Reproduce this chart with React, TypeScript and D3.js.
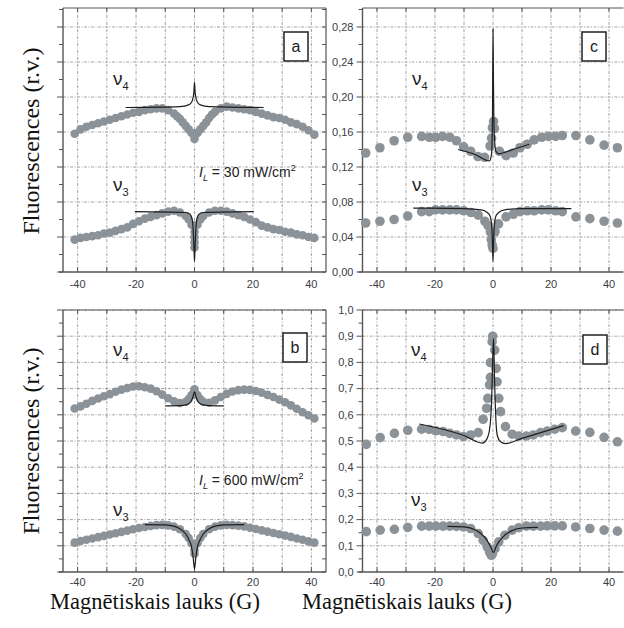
import React from 'react';
import * as d3 from 'd3';

type Pt = [number, number];

// ---- panel a : I_L = 30 mW/cm2, upper left ----
const aNu4: Pt[] = [
  [-41, 0.158], [-39, 0.163], [-37, 0.166], [-35, 0.168], [-33, 0.170], [-31, 0.172], [-29, 0.174],
  [-27, 0.176], [-25, 0.178], [-23, 0.180], [-21, 0.182], [-19, 0.183], [-17, 0.185], [-15, 0.186],
  [-13, 0.187], [-11, 0.187], [-9, 0.185], [-7, 0.181], [-6, 0.178], [-5, 0.175], [-4, 0.171],
  [-3, 0.167], [-2, 0.163], [-1, 0.159], [0, 0.156], [0, 0.152], [1, 0.159], [2, 0.163], [3, 0.167],
  [4, 0.171], [5, 0.176], [6, 0.180], [7, 0.183], [9, 0.187], [11, 0.189],
  [13, 0.188], [15, 0.187], [17, 0.186], [19, 0.185], [21, 0.183], [23, 0.181], [25, 0.179],
  [27, 0.177], [29, 0.176], [31, 0.174], [33, 0.171], [35, 0.169], [37, 0.166], [39, 0.162], [41, 0.157],
];
const aNu4Fit: Pt[] = [
  [-23.6, 0.188], [-5, 0.189], [-2, 0.191], [-1, 0.194], [-0.5, 0.199], [-0.2, 0.206], [0, 0.217],
  [0.2, 0.206], [0.5, 0.199], [1, 0.194], [2, 0.191], [5, 0.189], [23.7, 0.188],
];
const aNu3: Pt[] = [
  [-41, 0.037], [-39, 0.039], [-37, 0.040], [-35, 0.041], [-33, 0.042], [-31, 0.044], [-29, 0.045],
  [-27, 0.047], [-25, 0.049], [-23, 0.051], [-21, 0.055], [-19, 0.058], [-17, 0.061], [-15, 0.063],
  [-13, 0.065], [-11, 0.067], [-9, 0.069], [-7, 0.070], [-5, 0.068], [-3, 0.064], [-2, 0.060],
  [-1, 0.054], [0, 0.046], [0, 0.040], [0, 0.034], [0, 0.028], [1, 0.054], [2, 0.060], [3, 0.064],
  [5, 0.068], [7, 0.070], [9, 0.070], [11, 0.069], [13, 0.067], [15, 0.065], [17, 0.063], [19, 0.060],
  [21, 0.057], [23, 0.053], [25, 0.051], [27, 0.049], [29, 0.048], [31, 0.046], [33, 0.045],
  [35, 0.043], [37, 0.042], [39, 0.040], [41, 0.039],
];
const aNu3Fit: Pt[] = [
  [-20.4, 0.069], [-3, 0.068], [-1.5, 0.066], [-0.8, 0.060], [-0.4, 0.045], [-0.15, 0.025], [0, 0.012],
  [0.15, 0.025], [0.4, 0.045], [0.8, 0.060], [1.5, 0.066], [3, 0.068], [20.3, 0.069],
];

// ---- panel b : I_L = 600 mW/cm2, lower left ----
const bNu4: Pt[] = [
  [-41, 0.624], [-39, 0.632], [-37, 0.642], [-35, 0.653], [-33, 0.662], [-31, 0.671], [-29, 0.679],
  [-27, 0.688], [-25, 0.696], [-23, 0.702], [-21, 0.708], [-19, 0.709], [-17, 0.705], [-15, 0.700],
  [-13, 0.690], [-11, 0.677], [-9, 0.663], [-7, 0.652], [-5, 0.645], [-3, 0.650], [-2, 0.660],
  [-1, 0.675], [0, 0.697], [1, 0.675], [2, 0.660], [3, 0.650], [5, 0.646], [7, 0.655], [9, 0.668],
  [11, 0.680], [13, 0.689], [15, 0.694], [17, 0.696], [19, 0.695], [21, 0.691], [23, 0.684],
  [25, 0.676], [27, 0.668], [29, 0.658], [31, 0.648], [33, 0.636], [35, 0.623], [37, 0.610],
  [39, 0.598], [41, 0.586],
];
const bNu4Fit: Pt[] = [
  [-10, 0.634], [-4, 0.636], [-2, 0.642], [-1, 0.655], [-0.5, 0.670], [0, 0.688],
  [0.5, 0.670], [1, 0.655], [2, 0.642], [4, 0.636], [10, 0.634],
];
const bNu3: Pt[] = [
  [-41, 0.112], [-39, 0.118], [-37, 0.123], [-35, 0.128], [-33, 0.133], [-31, 0.138], [-29, 0.143],
  [-27, 0.148], [-25, 0.153], [-23, 0.158], [-21, 0.163], [-19, 0.168], [-17, 0.172], [-15, 0.176],
  [-13, 0.179], [-11, 0.180], [-9, 0.178], [-7, 0.173], [-5, 0.163], [-3, 0.145], [-2, 0.130],
  [-1, 0.110], [0, 0.085], [0, 0.070], [1, 0.110], [2, 0.130], [3, 0.145], [5, 0.163], [7, 0.173],
  [9, 0.178], [11, 0.180], [13, 0.179], [15, 0.177], [17, 0.174], [19, 0.169], [21, 0.164],
  [23, 0.159], [25, 0.154], [27, 0.149], [29, 0.144], [31, 0.139], [33, 0.134], [35, 0.128],
  [37, 0.123], [39, 0.117], [41, 0.112],
];
const bNu3Fit: Pt[] = [
  [-17, 0.181], [-10, 0.180], [-7, 0.175], [-5, 0.165], [-3, 0.145], [-2, 0.125], [-1, 0.095],
  [-0.5, 0.060], [0, 0.011], [0.5, 0.060], [1, 0.095], [2, 0.125], [3, 0.145], [5, 0.165],
  [7, 0.175], [10, 0.180], [17, 0.181],
];

// ---- panel c : upper right ----
const cNu4: Pt[] = [
  [-43.9, 0.136], [-39, 0.142], [-34.1, 0.150], [-29.4, 0.154], [-24.6, 0.155], [-22, 0.154],
  [-19.8, 0.154], [-17.4, 0.155], [-14.9, 0.154], [-12.6, 0.150], [-10.1, 0.143], [-7.7, 0.138],
  [-5.2, 0.132], [-2.9, 0.131], [-1, 0.144], [-0.5, 0.153], [-0.2, 0.165], [0.2, 0.172],
  [0.5, 0.164], [2.2, 0.138], [4.5, 0.133], [7, 0.136], [9.3, 0.142], [11.8, 0.146], [14.2, 0.151],
  [16.8, 0.154], [19.1, 0.155], [21.6, 0.155], [23.9, 0.156], [28.6, 0.156], [33.4, 0.151],
  [38.3, 0.145], [42.9, 0.142],
];
const cNu4Fit: Pt[] = [
  [-12, 0.140], [-6, 0.134], [-1.2, 0.127], [-0.5, 0.135], [-0.2, 0.170], [0, 0.278], [0.15, 0.220],
  [0.4, 0.160], [1, 0.138], [2, 0.135], [6, 0.139], [12.5, 0.146],
];
const cNu3: Pt[] = [
  [-43.9, 0.056], [-39, 0.058], [-34.1, 0.060], [-29.4, 0.064], [-24.6, 0.069], [-22, 0.069],
  [-19.8, 0.071], [-17.4, 0.071], [-14.9, 0.071], [-12.6, 0.071], [-10.1, 0.070], [-7.6, 0.068],
  [-5.1, 0.065], [-2.8, 0.058], [-1.7, 0.053], [-0.9, 0.046], [-0.6, 0.037], [-0.3, 0.031],
  [0, 0.027], [0.7, 0.046], [1.9, 0.055], [4.5, 0.063], [7, 0.066], [9.3, 0.069], [11.8, 0.070],
  [14.2, 0.070], [16.8, 0.071], [19.1, 0.071], [21.6, 0.070], [23.9, 0.069], [28.6, 0.063],
  [33.4, 0.061], [38.3, 0.058], [42.9, 0.056],
];
const cNu3Fit: Pt[] = [
  [-27.5, 0.073], [-10, 0.0725], [-4, 0.071], [-2, 0.068], [-1, 0.064], [-0.5, 0.055], [-0.2, 0.035],
  [0, 0.012], [0.2, 0.035], [0.5, 0.055], [1, 0.064], [2, 0.068], [4, 0.071], [10, 0.0725], [27, 0.0725],
];

// ---- panel d : lower right ----
const dNu4: Pt[] = [
  [-43.7, 0.487], [-38.9, 0.513], [-34, 0.529], [-29.4, 0.541], [-24.6, 0.545], [-22, 0.544],
  [-19.7, 0.539], [-17.2, 0.536], [-14.9, 0.529], [-12.6, 0.523], [-10.2, 0.517], [-7.7, 0.523],
  [-5.1, 0.532], [-3.4, 0.583], [-2.2, 0.625], [-1.8, 0.663], [-1.2, 0.714], [-0.9, 0.743],
  [-0.9, 0.799], [-0.3, 0.879], [-0.1, 0.900], [0.6, 0.847], [1.1, 0.777], [1.4, 0.726], [2, 0.663],
  [2.6, 0.612], [4.3, 0.555], [6.6, 0.526], [8.9, 0.519], [11.5, 0.519], [13.9, 0.523], [16.4, 0.532],
  [18.7, 0.538], [21.3, 0.545], [23.9, 0.551], [28.5, 0.538], [33.4, 0.533], [38.3, 0.514], [42.9, 0.497],
];
const dNu4Fit: Pt[] = [
  [-25.4, 0.565], [-10, 0.521], [-3.7, 0.492], [-2, 0.510], [-1, 0.560], [-0.5, 0.650], [0, 0.850],
  [0.2, 0.890], [0.5, 0.750], [1, 0.580], [1.5, 0.520], [2.5, 0.498], [4.3, 0.490], [10, 0.510], [24.4, 0.559],
];
const dNu3: Pt[] = [
  [-43.7, 0.154], [-38.9, 0.160], [-34, 0.163], [-29.4, 0.170], [-24.6, 0.175], [-22, 0.175],
  [-19.7, 0.175], [-17.2, 0.175], [-14.9, 0.175], [-12.6, 0.174], [-10.2, 0.172], [-7.7, 0.166],
  [-5.1, 0.147], [-3.4, 0.121], [-2, 0.096], [-1.2, 0.076], [-0.6, 0.064], [-0.2, 0.069], [0.7, 0.089],
  [2, 0.115], [4.1, 0.140], [6.6, 0.160], [8.9, 0.169], [11.5, 0.175], [13.9, 0.175], [16.4, 0.175],
  [18.7, 0.176], [21.3, 0.176], [23.9, 0.176], [28.5, 0.172], [33.4, 0.166], [38.3, 0.160], [42.9, 0.156],
];
const dNu3Fit: Pt[] = [
  [-15.7, 0.174], [-10, 0.172], [-6, 0.160], [-4, 0.145], [-2, 0.120], [-1, 0.100], [0.2, 0.075],
  [1, 0.095], [2, 0.115], [4, 0.140], [6, 0.155], [10, 0.168], [15.5, 0.170],
];

// ---- ticks ----
const xTickLabels = [-40, -20, 0, 20, 40];
const xGrid = [-40, -30, -20, -10, 0, 10, 20, 30, 40];
const topMajor = [0, 0.04, 0.08, 0.12, 0.16, 0.2, 0.24, 0.28];
const bottomMajor = [0, 0.1, 0.2, 0.3, 0.4, 0.5, 0.6, 0.7, 0.8, 0.9, 1.0];

const yTitle = 'Fluorescences (r.v.)';
const xTitle = 'Magnētiskais lauks (G)';

const GREY = '#8b9298';
const SANS = 'Liberation Sans, Arial, sans-serif';
const SERIF = 'Liberation Serif, Times New Roman, serif';

type PanelProps = {
  letter: string;
  left: number; right: number; top: number; bottom: number;
  yMax: number; major: number[]; fmt: (v: number) => string;
  showYLabels: boolean; drawRight: boolean; tickDy: number;
  nu4: Pt[]; nu4Fit: Pt[]; nu3: Pt[]; nu3Fit: Pt[];
  r: number;
  nu4Pos: [number, number]; nu3Pos: [number, number]; box: [number, number];
  intensity?: { text: string; x: number; y: number };
};

const Panel = (p: PanelProps) => {
  const x = d3.scaleLinear().domain([-45, 45]).range([p.left, p.right]);
  const y = d3.scaleLinear().domain([0, p.yMax]).range([p.bottom, p.top]);
  const step = p.major[1] - p.major[0];
  const minor = d3.range(0, p.yMax + 1e-9, step / 2);
  const line = d3.line<Pt>().x(d => x(d[0])).y(d => y(d[1])).curve(d3.curveMonotoneX);
  const dash = '3,1.5,1,1.5';

  return (
    <g>
      {/* grid */}
      {xGrid.map(v => (
        <line key={'gx' + v} x1={x(v)} x2={x(v)} y1={p.top} y2={p.bottom}
          stroke="#8a8a8a" strokeWidth={0.8} strokeDasharray={dash} />
      ))}
      {p.major.filter(v => v > 0).map(v => (
        <line key={'gy' + v} x1={p.left} x2={p.right} y1={y(v)} y2={y(v)}
          stroke="#8a8a8a" strokeWidth={0.8} strokeDasharray={dash} />
      ))}

      {/* frame */}
      <line x1={p.left} x2={p.right} y1={p.top} y2={p.top} stroke="#555" strokeWidth={1.2} />
      <line x1={p.left - 4} x2={p.right} y1={p.bottom} y2={p.bottom} stroke="#555" strokeWidth={1.4} />
      <line x1={p.left} x2={p.left} y1={p.top} y2={p.bottom} stroke="#555" strokeWidth={1.4} />
      {p.drawRight && (
        <line x1={p.right} x2={p.right} y1={p.top} y2={p.bottom} stroke="#555" strokeWidth={1.2} />
      )}

      {/* x ticks */}
      {xGrid.map(v => (
        <g key={'xt' + v}>
          <line x1={x(v)} x2={x(v)} y1={p.bottom} y2={p.bottom - 5} stroke="#555" />
          <line x1={x(v)} x2={x(v)} y1={p.top} y2={p.top + 4} stroke="#555" />
        </g>
      ))}
      {xTickLabels.map(v => (
        <text key={'xl' + v} x={x(v)} y={p.bottom + p.tickDy} textAnchor="middle"
          fontFamily={SANS} fontSize={11} fill="#3a3d45">{v}</text>
      ))}

      {/* y ticks */}
      {minor.map((v, i) => (
        <g key={'yt' + i}>
          <line x1={p.left - (i % 2 === 0 ? 6 : 4)} x2={p.left} y1={y(v)} y2={y(v)} stroke="#555" />
          {p.drawRight && (
            <line x1={p.right - 4} x2={p.right} y1={y(v)} y2={y(v)} stroke="#555" />
          )}
        </g>
      ))}
      {p.showYLabels && p.major.map(v => (
        <text key={'yl' + v} x={p.left - 9} y={y(v)} dy="0.35em" textAnchor="end"
          fontFamily={SANS} fontSize={11} fill="#3a3d45">{p.fmt(v)}</text>
      ))}

      {/* data */}
      {p.nu4.map((d, i) => (
        <circle key={'n4' + i} cx={x(d[0])} cy={y(d[1])} r={p.r} fill={GREY} />
      ))}
      {p.nu3.map((d, i) => (
        <circle key={'n3' + i} cx={x(d[0])} cy={y(d[1])} r={p.r} fill={GREY} />
      ))}
      <path d={line(p.nu4Fit) ?? ''} fill="none" stroke="#1e1e1e" strokeWidth={1.2} />
      <path d={line(p.nu3Fit) ?? ''} fill="none" stroke="#1e1e1e" strokeWidth={1.2} />

      {/* labels */}
      <text x={p.nu4Pos[0]} y={p.nu4Pos[1]} fontFamily={SANS} fontSize={19} fill="#222">
        ν<tspan fontSize={11} dy={5}>4</tspan>
      </text>
      <text x={p.nu3Pos[0]} y={p.nu3Pos[1]} fontFamily={SANS} fontSize={19} fill="#222">
        ν<tspan fontSize={11} dy={5}>3</tspan>
      </text>
      <rect x={p.box[0]} y={p.box[1]} width={24} height={29} fill="#fff" stroke="#222" strokeWidth={1.5} />
      <text x={p.box[0] + 12} y={p.box[1] + 20} textAnchor="middle" fontFamily={SANS} fontSize={16} fill="#222">
        {p.letter}
      </text>
      {p.intensity && (
        <text x={p.intensity.x} y={p.intensity.y} fontFamily={SANS} fontSize={14} fill="#222">
          <tspan fontStyle="italic">I</tspan>
          <tspan fontSize={9} fontStyle="italic" dy={4}>L</tspan>
          <tspan dy={-4}>{' = ' + p.intensity.text + ' mW/cm'}</tspan>
          <tspan fontSize={9} dy={-6}>2</tspan>
        </text>
      )}
    </g>
  );
};

const fmt2 = (v: number) => v.toFixed(2).replace('.', ',');
const fmt1 = (v: number) => v.toFixed(1).replace('.', ',');

export default function App() {
  const topMax = 0.28 + (0.04 * 19) / 35;
  return (
    <div style={{ position: 'absolute', left: 0, top: 0 }}>
      <svg width={624} height={628} style={{ display: 'block', background: '#fff' }}>
        <Panel letter="a" left={63} right={326} top={8} bottom={272} yMax={topMax} major={topMajor}
          fmt={fmt2} showYLabels={false} drawRight={true} tickDy={16} r={4.3}
          nu4={aNu4} nu4Fit={aNu4Fit} nu3={aNu3} nu3Fit={aNu3Fit}
          nu4Pos={[113, 85]} nu3Pos={[113, 191]} box={[284, 32]}
          intensity={{ text: '30', x: 199, y: 177 }} />
        <Panel letter="c" left={362.5} right={623.5} top={8} bottom={272} yMax={topMax} major={topMajor}
          fmt={fmt2} showYLabels={true} drawRight={false} tickDy={16} r={4.8}
          nu4={cNu4} nu4Fit={cNu4Fit} nu3={cNu3} nu3Fit={cNu3Fit}
          nu4Pos={[412, 85]} nu3Pos={[412, 191]} box={[582, 32]} />
        <Panel letter="b" left={63} right={326} top={310} bottom={572} yMax={1.0} major={bottomMajor}
          fmt={fmt1} showYLabels={false} drawRight={true} tickDy={14} r={4.3}
          nu4={bNu4} nu4Fit={bNu4Fit} nu3={bNu3} nu3Fit={bNu3Fit}
          nu4Pos={[113, 356]} nu3Pos={[113, 516]} box={[283, 333]}
          intensity={{ text: '600', x: 199, y: 485 }} />
        <Panel letter="d" left={362.5} right={623.5} top={310} bottom={572} yMax={1.0} major={bottomMajor}
          fmt={fmt1} showYLabels={true} drawRight={false} tickDy={14} r={4.8}
          nu4={dNu4} nu4Fit={dNu4Fit} nu3={dNu3} nu3Fit={dNu3Fit}
          nu4Pos={[411, 356]} nu3Pos={[411, 506]} box={[583, 335]} />

        <text transform="translate(39,141) rotate(-90)" textAnchor="middle" fontFamily={SERIF}
          fontSize={24} fill="#111">{yTitle}</text>
        <text transform="translate(39,441) rotate(-90)" textAnchor="middle" fontFamily={SERIF}
          fontSize={24} fill="#111">{yTitle}</text>
        <text x={50} y={609} fontFamily={SERIF} fontSize={22.5} fill="#111">{xTitle}</text>
        <text x={302} y={609} fontFamily={SERIF} fontSize={22.5} fill="#111">{xTitle}</text>
      </svg>
    </div>
  );
}
